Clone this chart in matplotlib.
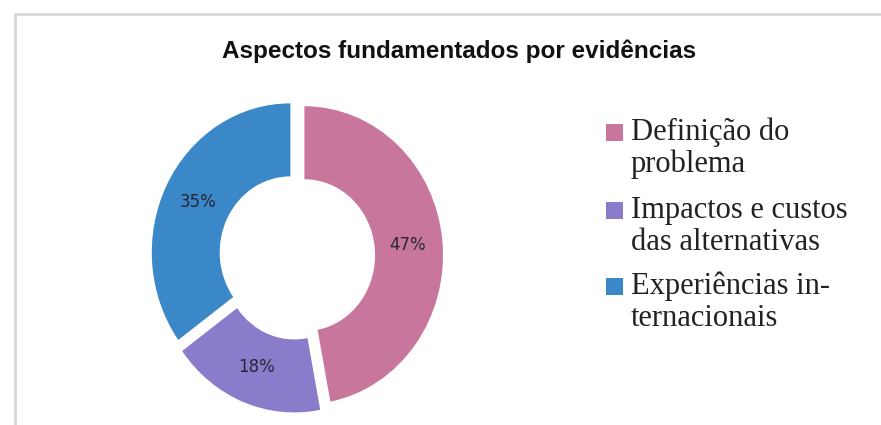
import matplotlib
matplotlib.use('Agg')
import matplotlib.pyplot as plt
from matplotlib.patches import Rectangle

title = 'Aspectos fundamentados por evidências'
labels = ['Definição do\nproblema', 'Impactos e custos\ndas alternativas', 'Experiências in-\nternacionais']
values = [47, 18, 35]
colors = ['#c9769c', '#8b7bcb', '#3b88c9']

W, H = 881, 425
sx = 0.93   # the original donut is a little narrower than tall
fig = plt.figure(figsize=(W/100, H/100), dpi=100)
fig.patch.set_facecolor('white')

# light frame around chart area (runs off right/bottom edges)
fig.patches.append(Rectangle((15/W, -0.05), 1.0, 1 - 14/H + 0.05, transform=fig.transFigure,
                             fill=False, edgecolor='#d8d8d8', linewidth=2))

ax = fig.add_axes([0, 0, 1, 1])
# explode is in data units here (pixels)
wedges, texts, autotexts = ax.pie(values, colors=colors, startangle=90, counterclock=False,
                                  center=(297/sx, H-256), radius=149,
                                  explode=[8, 8, 8],
                                  wedgeprops=dict(width=73, edgecolor='none'),
                                  autopct='%1.0f%%', pctdistance=0.75,
                                  textprops=dict(fontsize=12, color='#262838', family='DejaVu Sans'))
ax.set_xlim(0, W/sx)
ax.set_ylim(0, H)
ax.set_aspect('auto')
ax.axis('off')

fig.text(459/W, 1 - 51/H, title, ha='center', va='center', fontsize=17.5,
         fontweight='bold', family='Liberation Sans', color='#111111')

# legend drawn by hand so the swatch sits on the first line
base = [140, 218, 294]
for lab, col, y in zip(labels, colors, base):
    fig.patches.append(Rectangle((606/W, 1 - (y+1)/H), 17/W, 17/H, transform=fig.transFigure,
                                 facecolor=col, edgecolor='none'))
    for k, line in enumerate(lab.split('\n')):
        fig.text(631/W, 1 - (y + 32*k)/H, line, ha='left', va='baseline', fontsize=22,
                 family='Liberation Serif', color='#222222')

fig.savefig('out.png', dpi=100)
